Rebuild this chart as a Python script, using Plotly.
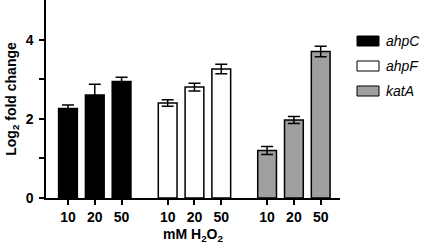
import plotly.graph_objects as go

genes = ["ahpC", "ahpF", "katA"]
doses = ["10", "20", "50"]
ahpC = [2.26, 2.60, 2.94]
ahpC_err = [0.09, 0.27, 0.11]
ahpF = [2.40, 2.80, 3.26]
ahpF_err = [0.08, 0.10, 0.12]
katA = [1.20, 1.97, 3.70]
katA_err = [0.10, 0.09, 0.13]
fills = ["#000000", "#ffffff", "#a0a0a0"]
group_starts = [0.0, 3.72, 7.43]

values = [ahpC, ahpF, katA]
errors = [ahpC_err, ahpF_err, katA_err]

FAM = "Liberation Sans, Arial, sans-serif"
W, H = 425, 246
L, R, T, B = 46, 85, 0, 48
pw, ph = W - L - R, H - T - B

def px_x(px):
    return (px - L) / pw

def px_y(py):
    return (H - B - py) / ph

fig = go.Figure()
tickvals, ticktext = [], []
for g, vals, errs, col, start in zip(genes, values, errors, fills, group_starts):
    xs = [start + i for i in range(len(doses))]
    tickvals += xs
    ticktext += doses
    fig.add_trace(go.Bar(
        x=xs, y=vals, name=g, width=0.7, showlegend=False,
        marker=dict(color=col, line=dict(color="#000000", width=1.5)),
        error_y=dict(type="data", array=errs, visible=True, color="#000000",
                     thickness=1.5, width=6),
    ))

# manual legend (swatch + italic label)
shapes, annots = [], []
for i, (g, col) in enumerate(zip(genes, fills)):
    top = 36 + i * 25
    shapes.append(dict(type="rect", xref="paper", yref="paper",
                       x0=px_x(357), x1=px_x(379), y0=px_y(top + 10), y1=px_y(top),
                       fillcolor=col, line=dict(color="#000000", width=1)))
    annots.append(dict(xref="paper", yref="paper", x=px_x(384), y=px_y(top + 5),
                       xanchor="left", yanchor="middle", showarrow=False, text=g,
                       font=dict(family=FAM, size=14, style="italic", color="#000000")))

fig.update_layout(
    width=W, height=H,
    margin=dict(l=L, r=R, t=T, b=B),
    plot_bgcolor="white", paper_bgcolor="white",
    font=dict(family=FAM, size=14, color="#000000"),
    showlegend=False,
    shapes=shapes, annotations=annots,
    xaxis=dict(range=[-0.82, 10.15], tickvals=tickvals, ticktext=ticktext, automargin=False,
               showgrid=False, zeroline=False, showline=True, linecolor="#000000",
               linewidth=1.5, ticks="outside", ticklen=5, tickwidth=1.5, tickcolor="#000000",
               tickfont=dict(family=FAM, size=14, weight="bold"),
               title=dict(text="mM H<sub>2</sub>O<sub>2</sub>", standoff=6,
                          font=dict(family=FAM, size=14, weight="bold"))),
    yaxis=dict(range=[0, 5], tickvals=[0, 1, 2, 3, 4], ticktext=["0", "", "2", "", "4"],
               automargin=False, ticklabelstandoff=3,
               showgrid=False, zeroline=False, showline=True, linecolor="#000000",
               linewidth=1.5, ticks="outside", ticklen=5, tickwidth=1.5, tickcolor="#000000",
               tickfont=dict(family=FAM, size=14, weight="bold"),
               title=dict(text="Log<sub>2</sub> fold change", standoff=6,
                          font=dict(family=FAM, size=14, weight="bold"))),
)
fig.write_html("out.html", config={"displayModeBar": False},
               post_script="document.body.style.margin='0';document.body.style.padding='0';")
